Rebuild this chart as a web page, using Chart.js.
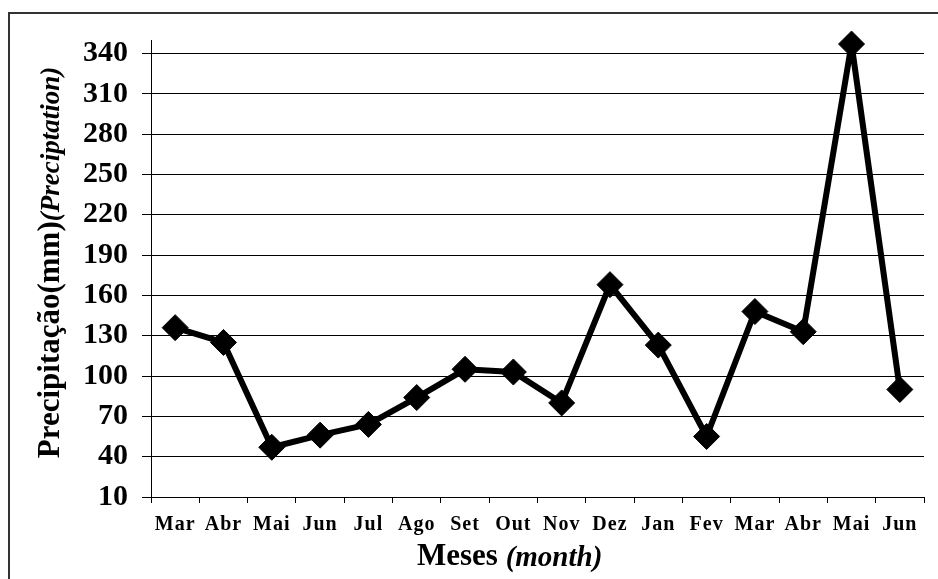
<!DOCTYPE html>
<html>
<head>
<meta charset="utf-8">
<script src="https://cdn.jsdelivr.net/npm/chart.js@4"></script>
<style>
    html, body { margin: 0; padding: 0; background: #fff; }
    #wrap { width: 938px; height: 579px; position: relative; }
</style>
</head>
<body>
<div id="wrap"><canvas id="rainChart"></canvas></div>
<script>
// 월 라벨
const months = ['Mar', 'Abr', 'Mai', 'Jun', 'Jul', 'Ago', 'Set', 'Out', 'Nov', 'Dez', 'Jan', 'Fev', 'Mar', 'Abr', 'Mai', 'Jun'];

// 강수량 (mm)
const rainfall = [136, 125, 47, 56, 64, 84, 105, 103, 80, 168, 123, 55, 148, 133, 347, 90];

// y축 눈금
const yTicks = [10, 40, 70, 100, 130, 160, 190, 220, 250, 280, 310, 340];
const yMin = 10;
const yMax = 350;

const SERIF = "'Liberation Serif', 'Times New Roman', serif";

// 외곽선 + 축 제목 그리기
const framePlugin = {
    id: 'frame',
    beforeDraw(chart) {
        const xs = chart.scales.x;
        if (!xs._spaced) {
            const orig = xs.drawLabels;
            xs.drawLabels = function (area) {
                const c = this.ctx;
                c.save();
                c.letterSpacing = '1px';
                orig.call(this, area);
                c.restore();
            };
            xs._spaced = true;
        }
    },
    afterDraw(chart) {
        const ctx = chart.ctx;
        const area = chart.chartArea;

        ctx.save();
        ctx.strokeStyle = '#333';
        ctx.lineWidth = 2;
        ctx.strokeRect(9, 13, 1000, 1000);

        // x축 제목
        ctx.fillStyle = '#000';
        ctx.textBaseline = 'alphabetic';
        ctx.textAlign = 'left';
        ctx.font = 'bold 31px ' + SERIF;
        const part1 = 'Meses ';
        const w1 = ctx.measureText(part1).width;
        ctx.fillText(part1, 417, 565);
        ctx.font = 'italic bold 29px ' + SERIF;
        ctx.fillText('(month)', 417 + w1, 566);

        // y축 제목
        ctx.translate(59, 0);
        ctx.rotate(-Math.PI / 2);
        ctx.font = 'bold 31px ' + SERIF;
        const t1 = 'Precipitação(mm)';
        const a = ctx.measureText(t1).width;
        ctx.font = 'italic bold 27px ' + SERIF;
        const t2 = '(Preciptation)';
        const b = ctx.measureText(t2).width;
        const mid = (area.top + area.bottom) / 2 - 6;
        const start = -(mid + (a + b) / 2);
        ctx.font = 'bold 31px ' + SERIF;
        ctx.fillText(t1, start, 0);
        ctx.font = 'italic bold 27px ' + SERIF;
        ctx.fillText(t2, start + a, 0);
        ctx.restore();
    }
};

new Chart(document.getElementById('rainChart'), {
    type: 'line',
    data: {
        labels: months,
        datasets: [{
            data: rainfall,
            borderColor: '#000',
            borderWidth: 6,
            borderJoinStyle: 'round',
            backgroundColor: '#000',
            pointStyle: 'rectRot',
            pointRadius: 13,
            pointBorderWidth: 1,
            pointBackgroundColor: '#000',
            pointBorderColor: '#000',
            tension: 0,
            clip: false
        }]
    },
    options: {
        responsive: true,
        maintainAspectRatio: false,
        animation: false,
        layout: { padding: { top: 40, right: 3, left: 0, bottom: 0 } },
        plugins: {
            legend: { display: false },
            tooltip: { enabled: false }
        },
        scales: {
            x: {
                offset: true,
                grid: {
                    offset: true,
                    drawOnChartArea: false,
                    tickLength: 6,
                    color: '#000',
                    lineWidth: 1
                },
                border: { color: '#000', width: 1 },
                ticks: {
                    color: '#000',
                    padding: 10,
                    maxRotation: 0,
                    autoSkip: false,
                    font: { family: SERIF, size: 20, weight: 'bold' }
                },
                afterFit(scale) { scale.height = 82; }
            },
            y: {
                min: yMin,
                max: yMax,
                grid: {
                    color: '#000',
                    lineWidth: 1,
                    tickLength: 9
                },
                border: { color: '#000', width: 1 },
                ticks: {
                    color: '#000',
                    padding: 14,
                    font: { family: SERIF, size: 30, weight: 'bold' }
                },
                afterBuildTicks(scale) {
                    scale.ticks = yTicks.map(v => ({ value: v }));
                },
                afterFit(scale) { scale.width = 151; }
            }
        }
    },
    plugins: [framePlugin]
});
</script>
</body>
</html>
